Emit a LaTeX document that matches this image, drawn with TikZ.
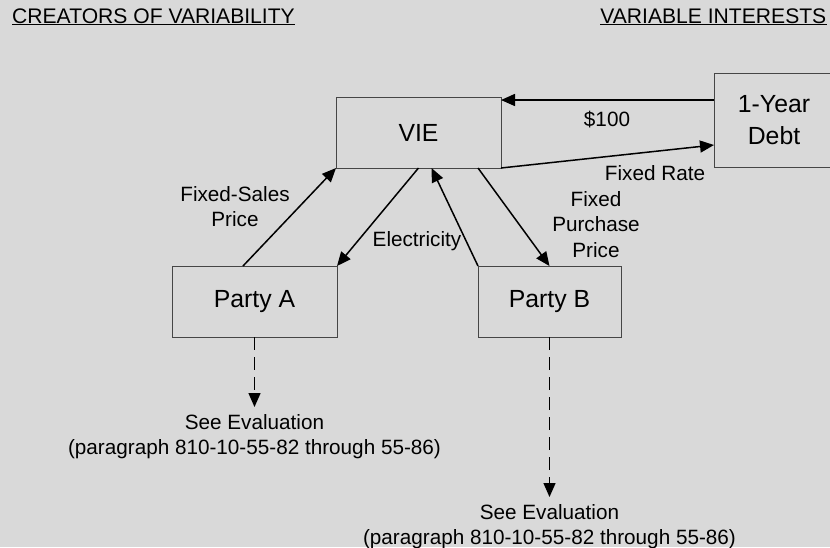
\documentclass[tikz,border=0pt]{standalone}
\usepackage{fontspec}
\setmainfont{Liberation Sans}
\usetikzlibrary{arrows.meta}
\definecolor{bg}{RGB}{217,217,217}
\definecolor{boxline}{RGB}{70,70,70}
\begin{document}
\begin{tikzpicture}[x=1pt,y=-1pt,
  box/.style={draw=boxline,line width=0.9pt,minimum width=#1,inner sep=0pt,outer sep=0pt},
  bigtxt/.style={font=\fontsize{24.8pt}{31.5pt}\selectfont},
  smalltxt/.style={font=\fontsize{20.7pt}{25.7pt}\selectfont,align=center,inner sep=0pt},
  arr/.style={draw=black,line width=1.5pt,-{Triangle[length=14pt,width=12pt]}},
  darr/.style={arr,line width=1.4pt,dash pattern=on 13pt off 7pt},
  title/.style={font=\fontsize{21.1pt}{25pt}\selectfont,inner sep=0pt}]
\clip (0,0) rectangle (830,547);
\fill[bg] (0,0) rectangle (830,547);

% boxes
\node[box=165pt,minimum height=71pt,bigtxt] (VIE) at (418.5,132.5) {VIE};
\node[box=165pt,minimum height=71pt,bigtxt] (pa) at (254.5,301.5) {Party A};
\node[box=143pt,minimum height=71pt,bigtxt] (pb) at (549.5,301.5) {Party B};
\node[box=120pt,minimum height=94pt,bigtxt,align=center] (debt) at (774,120) {1-Year\\Debt};

% titles
\node[title,anchor=base west] (t1) at (12,23.3) {CREATORS OF VARIABILITY};
\node[title,anchor=base east] (t2) at (826.5,23.3) {VARIABLE INTERESTS};
\draw[line width=1.3pt] ([yshift=-1.4pt]t1.base west) -- ([yshift=-1.4pt]t1.base east);
\draw[line width=1.3pt] ([yshift=-1.4pt]t2.base west) -- ([yshift=-1.4pt]t2.base east);

% evaluation nodes
\node[smalltxt,anchor=north,inner ysep=7pt] (evA) at (254.5,407)
  {See Evaluation\\(paragraph 810-10-55-82 through 55-86)};
\node[smalltxt,anchor=north,inner ysep=7pt] (evB) at (549.5,497)
  {See Evaluation\\(paragraph 810-10-55-82 through 55-86)};

% labels
\node[smalltxt] (l100) at (607,120) {\$100};
\node[smalltxt] (lrate) at (655,173) {Fixed Rate};
\node[smalltxt] (lpurch) at (596,224.5) {Fixed\\Purchase\\Price};
\node[smalltxt] (lelec) at (417,241) {Electricity};
\node[smalltxt] (lsales) at (235,206.5) {Fixed-Sales\\Price};

% connectors
\draw[arr] ([yshift=-27pt]debt.north west) -- ([yshift=-3pt]VIE.north east);
\draw[arr] (VIE.south east) -- ([yshift=-25pt]debt.west);
\draw[arr] ([xshift=-11.5pt]pa.north) -- (VIE.south west);
\draw[arr] (VIE.south) -- (pa.north east);
\draw[arr] (pb.north west) -- ([xshift=13pt]VIE.south);
\draw[arr] ([xshift=59.5pt]VIE.south) -- (pb.north);
\draw[darr] (pa.south) -- (evA.north);
\draw[darr] (pb.south) -- (evB.north);
\end{tikzpicture}
\end{document}
